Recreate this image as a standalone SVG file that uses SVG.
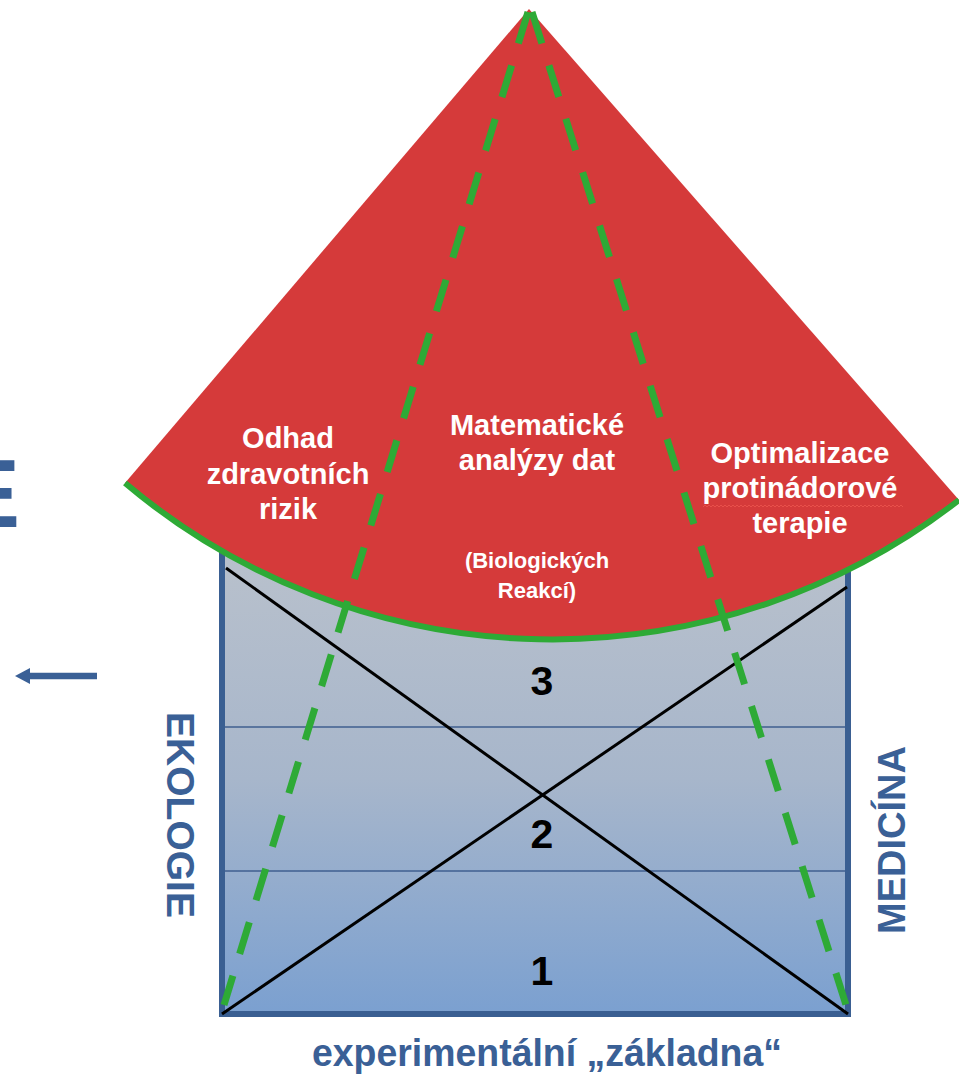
<svg xmlns="http://www.w3.org/2000/svg" width="959" height="1075" viewBox="0 0 959 1075">
<style>
.w{fill:#fff;font-family:"Liberation Sans",Arial,sans-serif;font-weight:bold;text-anchor:middle}
.b{fill:#3A6096;font-family:"Liberation Sans",Arial,sans-serif;font-weight:bold;text-anchor:middle}
.n{fill:#000;font-family:"Liberation Sans",Arial,sans-serif;font-weight:bold;font-size:41px;text-anchor:middle}
.dash{fill:none;stroke:#2EAA36;stroke-width:7;stroke-dasharray:33 23}
</style>
<defs>
<linearGradient id="bg" x1="0" y1="0" x2="0" y2="1">
<stop offset="0" stop-color="#B9C1CC"/>
<stop offset="0.5" stop-color="#A7B6CB"/>
<stop offset="1" stop-color="#7BA0D0"/>
</linearGradient>
</defs>
<rect width="959" height="1075" fill="#fff"/>
<g id="left-fragment">
<text x="-44" y="527" class="b" style="text-anchor:start;font-size:96px">E</text>
<polygon points="15,676 30,668 30,672.7 97,672.7 97,679.3 30,679.3 30,684" fill="#3A6096"/>
</g>
<g id="base">
<rect x="222" y="545" width="626" height="469" fill="url(#bg)" stroke="#3A5F92" stroke-width="6"/>
<line x1="225" y1="727" x2="845" y2="727" stroke="#3F5F8F" stroke-width="1.5"/>
<line x1="225" y1="871" x2="845" y2="871" stroke="#3F5F8F" stroke-width="1.5"/>
<line x1="226" y1="568" x2="848" y2="1014" stroke="#000" stroke-width="3"/>
<line x1="222" y1="1014" x2="847" y2="587" stroke="#000" stroke-width="3"/>
<text x="542" y="695" class="n">3</text>
<text x="542" y="848" class="n">2</text>
<text x="542" y="985" class="n">1</text>
</g>
<g id="sector">
<path d="M529,9 L125,483 A662.5,662.5 0 0 0 959,500 Z" fill="#D53A3A"/>
<path d="M125,483 A662.5,662.5 0 0 0 959,500" fill="none" stroke="#2EAA36" stroke-width="6"/>
</g>
<g id="connectors">
<path class="dash" d="M528,12 L224,1005"/>
<path class="dash" d="M532,12 L846,1005"/>
</g>
<g id="label-odhad">
<text class="w" style="font-size:29px"><tspan x="288" y="448">Odhad</tspan><tspan x="288" y="484">zdravotních</tspan><tspan x="288" y="519">rizik</tspan></text>
</g>
<g id="label-matematicke">
<text class="w" style="font-size:29px"><tspan x="537" y="435">Matematické</tspan><tspan x="537" y="470">analýzy dat</tspan></text>
<text class="w" style="font-size:22px"><tspan x="537" y="568">(Biologických</tspan><tspan x="537" y="598">Reakcí)</tspan></text>
</g>
<g id="label-optimalizace">
<text class="w" style="font-size:29px"><tspan x="800" y="463">Optimalizace</tspan><tspan x="800" y="498">protinádorové</tspan><tspan x="800" y="533">terapie</tspan></text>
<path d="M703,507 l2,-2 2,2 2,-2 2,2 2,-2 2,2 2,-2 2,2 2,-2 2,2 2,-2 2,2 2,-2 2,2 2,-2 2,2 2,-2 2,2 2,-2 2,2 2,-2 2,2 2,-2 2,2 2,-2 2,2 2,-2 2,2 2,-2 2,2 2,-2 2,2 2,-2 2,2 2,-2 2,2 2,-2 2,2 2,-2 2,2 2,-2 2,2 2,-2 2,2 2,-2 2,2 2,-2 2,2 2,-2 2,2 2,-2 2,2 2,-2 2,2 2,-2 2,2 2,-2 2,2 2,-2 2,2 2,-2 2,2 2,-2 2,2 2,-2 2,2 2,-2 2,2 2,-2 2,2 2,-2 2,2 2,-2 2,2 2,-2 2,2 2,-2 2,2 2,-2 2,2 2,-2 2,2 2,-2 2,2 2,-2 2,2 2,-2 2,2 2,-2 2,2 2,-2 2,2 2,-2 2,2 2,-2 2,2 2,-2 2,2 2,-2 2,2" fill="none" stroke="#E8504A" stroke-width="1"/>
</g>
<g id="label-ekologie">
<text x="167" y="815" class="b" style="font-size:39px" transform="rotate(90 167 815)">EKOLOGIE</text>
</g>
<g id="label-medicina">
<text x="905" y="840" class="b" style="font-size:38px" transform="rotate(-90 905 840)">MEDICÍNA</text>
</g>
<g id="label-zakladna">
<text x="547" y="1066" class="b" style="font-size:38px" textLength="470" lengthAdjust="spacingAndGlyphs">experimentální „základna“</text>
</g>
</svg>
